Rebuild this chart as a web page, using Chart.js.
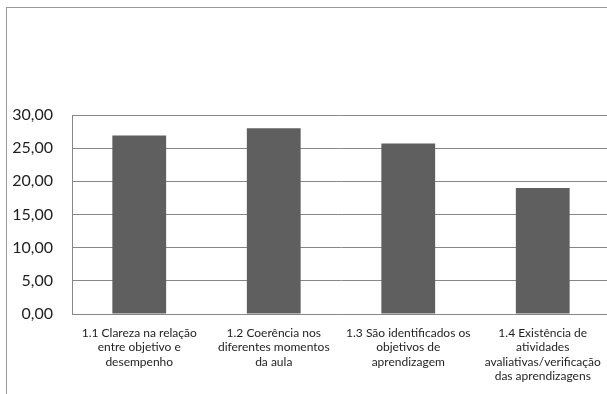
<!DOCTYPE html>
<html>
<head>
<meta charset="utf-8">
<script src="https://cdn.jsdelivr.net/npm/chart.js@4"></script>
<style>
  html, body { margin: 0; padding: 0; background: #fff; overflow: hidden; }
  #frame {
    position: absolute; left: 6px; top: 7px; width: 700px; height: 500px;
    border-left: 1.5px solid #9a9a9a; border-top: 1.5px solid #9a9a9a;
  }
  #wrap { position: absolute; left: 0; top: 0; width: 640px; height: 394px; }
</style>
</head>
<body>
<div id="frame"></div>
<div id="wrap"><canvas id="c" width="640" height="394"></canvas></div>
<script>
// Evaluated criteria (labels wrapped as in the report)
const categories = [
  ["1.1 Clareza na relação", "entre objetivo e", "desempenho"],
  ["1.2 Coerência nos", "diferentes momentos", "da aula"],
  ["1.3 São identificados os", "objetivos de", "aprendizagem"],
  ["1.4 Existência de", "atividades", "avaliativas/verificação", "das aprendizagens"]
];
// Scores per criterion
const scores = [26.9, 28.0, 25.7, 19.0];
// Value axis range
const yMin = 0;
const yMax = 30;
const yStep = 5;

const gridColor = '#878787';

new Chart(document.getElementById('c'), {
  type: 'bar',
  data: {
    labels: categories,
    datasets: [{
      data: scores,
      backgroundColor: '#5f5f5f',
      borderWidth: 0,
      categoryPercentage: 1,
      barPercentage: 0.4
    }]
  },
  options: {
    responsive: false,
    animation: false,
    layout: { padding: { left: 0, top: 115, right: 30, bottom: 0 } },
    plugins: { legend: { display: false }, tooltip: { enabled: false } },
    scales: {
      x: {
        grid: { display: false, drawTicks: false },
        border: { display: true, color: gridColor, width: 1 },
        ticks: {
          padding: 12,
          maxRotation: 0,
          autoSkip: false,
          color: '#1e1e1e',
          font: { family: 'Lato', size: 12, lineHeight: 1.2 }
        },
        afterFit: s => { s.height = 80; }
      },
      y: {
        min: yMin,
        max: yMax,
        ticks: {
          stepSize: yStep,
          padding: 19,
          color: '#1e1e1e',
          font: { family: 'Lato', size: 16 },
          callback: v => v.toFixed(2).replace('.', ',')
        },
        grid: { color: gridColor, lineWidth: 1, drawTicks: false },
        border: { display: true, color: gridColor, width: 1 },
        afterFit: s => { s.width = 72; }
      }
    }
  }
});
</script>
</body>
</html>
